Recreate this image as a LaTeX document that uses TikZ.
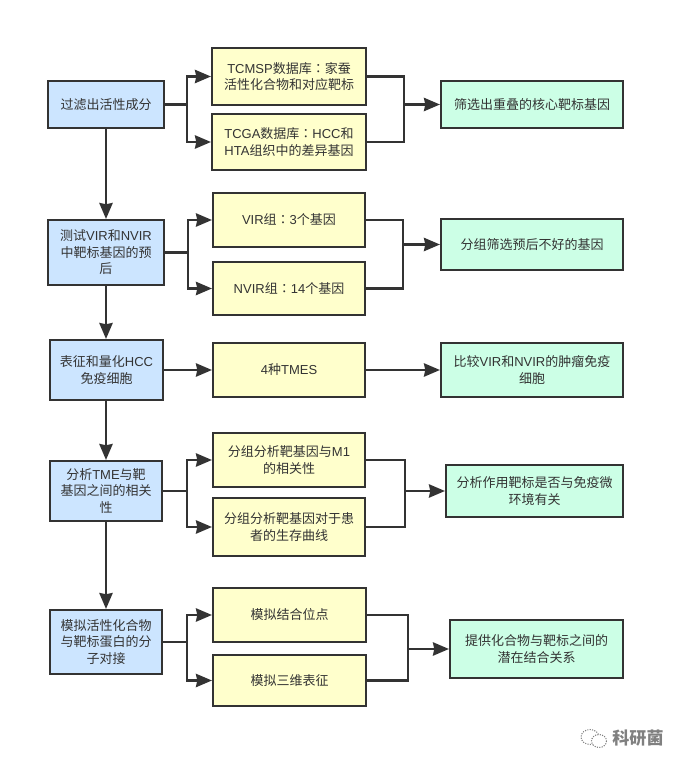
\documentclass[tikz,border=0pt]{standalone}
\usepackage{fontspec}
\setmainfont{Noto Sans CJK SC}
\newfontfamily\latinface{Liberation Sans}
\newfontfamily\colonface{Noto Sans CJK TC}
\newcommand{\la}[1]{{\latinface #1}}
\newcommand{\cn}{{\colonface ：}}
\usetikzlibrary{arrows.meta}
\definecolor{ink}{HTML}{333333}
\definecolor{bluefill}{HTML}{CCE5FF}
\definecolor{yellowfill}{HTML}{FFFFCC}
\definecolor{greenfill}{HTML}{CCFFE6}
\tikzset{
  boxbase/.style={draw=ink,line width=1.6pt,align=center,text=ink,font=\fontsize{9.75pt}{12.3pt}\selectfont,inner sep=0pt},
  bluebox/.style={boxbase,fill=bluefill},
  yellowbox/.style={boxbase,fill=yellowfill},
  greenbox/.style={boxbase,fill=greenfill},
  conn/.style={draw=ink,line width=1.6pt},
  arrowconn/.style={conn,-{Stealth[length=12pt,width=10pt,inset=1pt]}},
}
% box from left, top, right, bottom in pixels
\newcommand{\pxbox}[7]{%
  \pgfmathsetmacro{\bw}{(#5-#3)*0.75}%
  \pgfmathsetmacro{\bh}{(#6-#4)*0.75}%
  \node[#1,minimum width=\bw pt,minimum height=\bh pt] (#2) at ({(#3+#5)/2},{(#4+#6)/2}) {#7};}
\begin{document}
\begin{tikzpicture}[x=0.75pt,y=-0.75pt]
\useasboundingbox (0,0) rectangle (685,768);
\fill[white] (0,0) rectangle (685,768);
\pxbox{bluebox}{bA}{48}{81}{164}{128}{过滤出活性成分}
\pxbox{bluebox}{bB}{48}{220}{164}{285}{测试\la{VIR}和\la{NVIR}\\中靶标基因的预\\后}
\pxbox{bluebox}{bC}{50}{340}{163}{400}{表征和量化\la{HCC}\\免疫细胞}
\pxbox{bluebox}{bD}{50}{461}{162}{521}{分析\la{TME}与靶\\基因之间的相关\\性}
\pxbox{bluebox}{bE}{50}{610}{162}{674}{模拟活性化合物\\与靶标蛋白的分\\子对接}
\pxbox{yellowbox}{yA}{212}{48}{366}{105}{\la{TCMSP}数据库\cn 家蚕\\活性化合物和对应靶标}
\pxbox{yellowbox}{yB}{212}{114}{366}{170}{\la{TCGA}数据库\cn\la{HCC}和\\\la{HTA}组织中的差异基因}
\pxbox{yellowbox}{yC}{213}{193}{365}{247}{\la{VIR}组\cn\la{3}个基因}
\pxbox{yellowbox}{yD}{213}{262}{365}{315}{\la{NVIR}组\cn\la{14}个基因}
\pxbox{yellowbox}{yE}{213}{343}{365}{397}{\la{4}种\la{TMES}}
\pxbox{yellowbox}{yF}{213}{433}{365}{487}{分组分析靶基因与\la{M1}\\的相关性}
\pxbox{yellowbox}{yG}{213}{498}{365}{556}{分组分析靶基因对于患\\者的生存曲线}
\pxbox{yellowbox}{yH}{213}{588}{366}{642}{模拟结合位点}
\pxbox{yellowbox}{yI}{213}{655}{366}{706}{模拟三维表征}
\pxbox{greenbox}{gA}{441}{81}{623}{128}{筛选出重叠的核心靶标基因}
\pxbox{greenbox}{gB}{441}{219}{623}{270}{分组筛选预后不好的基因}
\pxbox{greenbox}{gC}{441}{343}{623}{397}{比较\la{VIR}和\la{NVIR}的肿瘤免疫\\细胞}
\pxbox{greenbox}{gD}{446}{465}{623}{517}{分析作用靶标是否与免疫微\\环境有关}
\pxbox{greenbox}{gE}{450}{620}{623}{678}{提供化合物与靶标之间的\\潜在结合关系}
% junctions
\coordinate (lA) at (187,104.5);
\coordinate (lB) at (188,252.5);
\coordinate (lD) at (187,491);
\coordinate (lE) at (187,642);
\coordinate (rA) at (404,104.5);
\coordinate (rB) at (403,244.5);
\coordinate (rD) at (405,491);
\coordinate (rE) at (408,649);
% vertical flow
\draw[arrowconn] (bA.south) -- (bB.north);
\draw[arrowconn] (bB.south) -- (bB.south |- bC.north);
\draw[arrowconn] (bB.south |- bC.south) -- (bB.south |- bD.north);
\draw[arrowconn] (bB.south |- bD.south) -- (bB.south |- bE.north);
% left branches
\draw[conn] (bA.east) -- (lA);
\draw[arrowconn] (lA) |- (yA.west);
\draw[arrowconn] (lA) |- (yB.west);
\draw[conn] (bB.east) -- (lB);
\draw[arrowconn] (lB) |- (yC.west);
\draw[arrowconn] (lB) |- (yD.west);
\draw[arrowconn] (bC.east) -- (yE.west);
\draw[conn] (bD.east) -- (lD);
\draw[arrowconn] (lD) |- (yF.west);
\draw[arrowconn] (lD) |- (yG.west);
\draw[conn] (bE.east) -- (lE);
\draw[arrowconn] (lE) |- (yH.west);
\draw[arrowconn] (lE) |- (yI.west);
% right branches
\draw[conn] (yA.east) -| (rA);
\draw[conn] (yB.east) -| (rA);
\draw[arrowconn] (rA) -- (gA.west);
\draw[conn] (yC.east) -| (rB);
\draw[conn] (yD.east) -| (rB);
\draw[arrowconn] (rB) -- (gB.west);
\draw[arrowconn] (yE.east) -- (gC.west);
\draw[conn] (yF.east) -| (rD);
\draw[conn] (yG.east) -| (rD);
\draw[arrowconn] (rD) -- (gD.west);
\draw[conn] (yH.east) -| (rE);
\draw[conn] (yI.east) -| (rE);
\draw[arrowconn] (rE) -- (gE.west);
% watermark
\draw[gray,line width=0.8pt,densely dotted] (590,737) ellipse (9 and 7.5);
\draw[gray,line width=0.8pt,densely dotted,fill=white] (599,741) ellipse (7.5 and 6.5);
\node[text=gray,font=\fontsize{12.8pt}{13pt}\selectfont\bfseries,inner sep=0pt] (mark) at (638,738) {科研菌};
\end{tikzpicture}
\end{document}
